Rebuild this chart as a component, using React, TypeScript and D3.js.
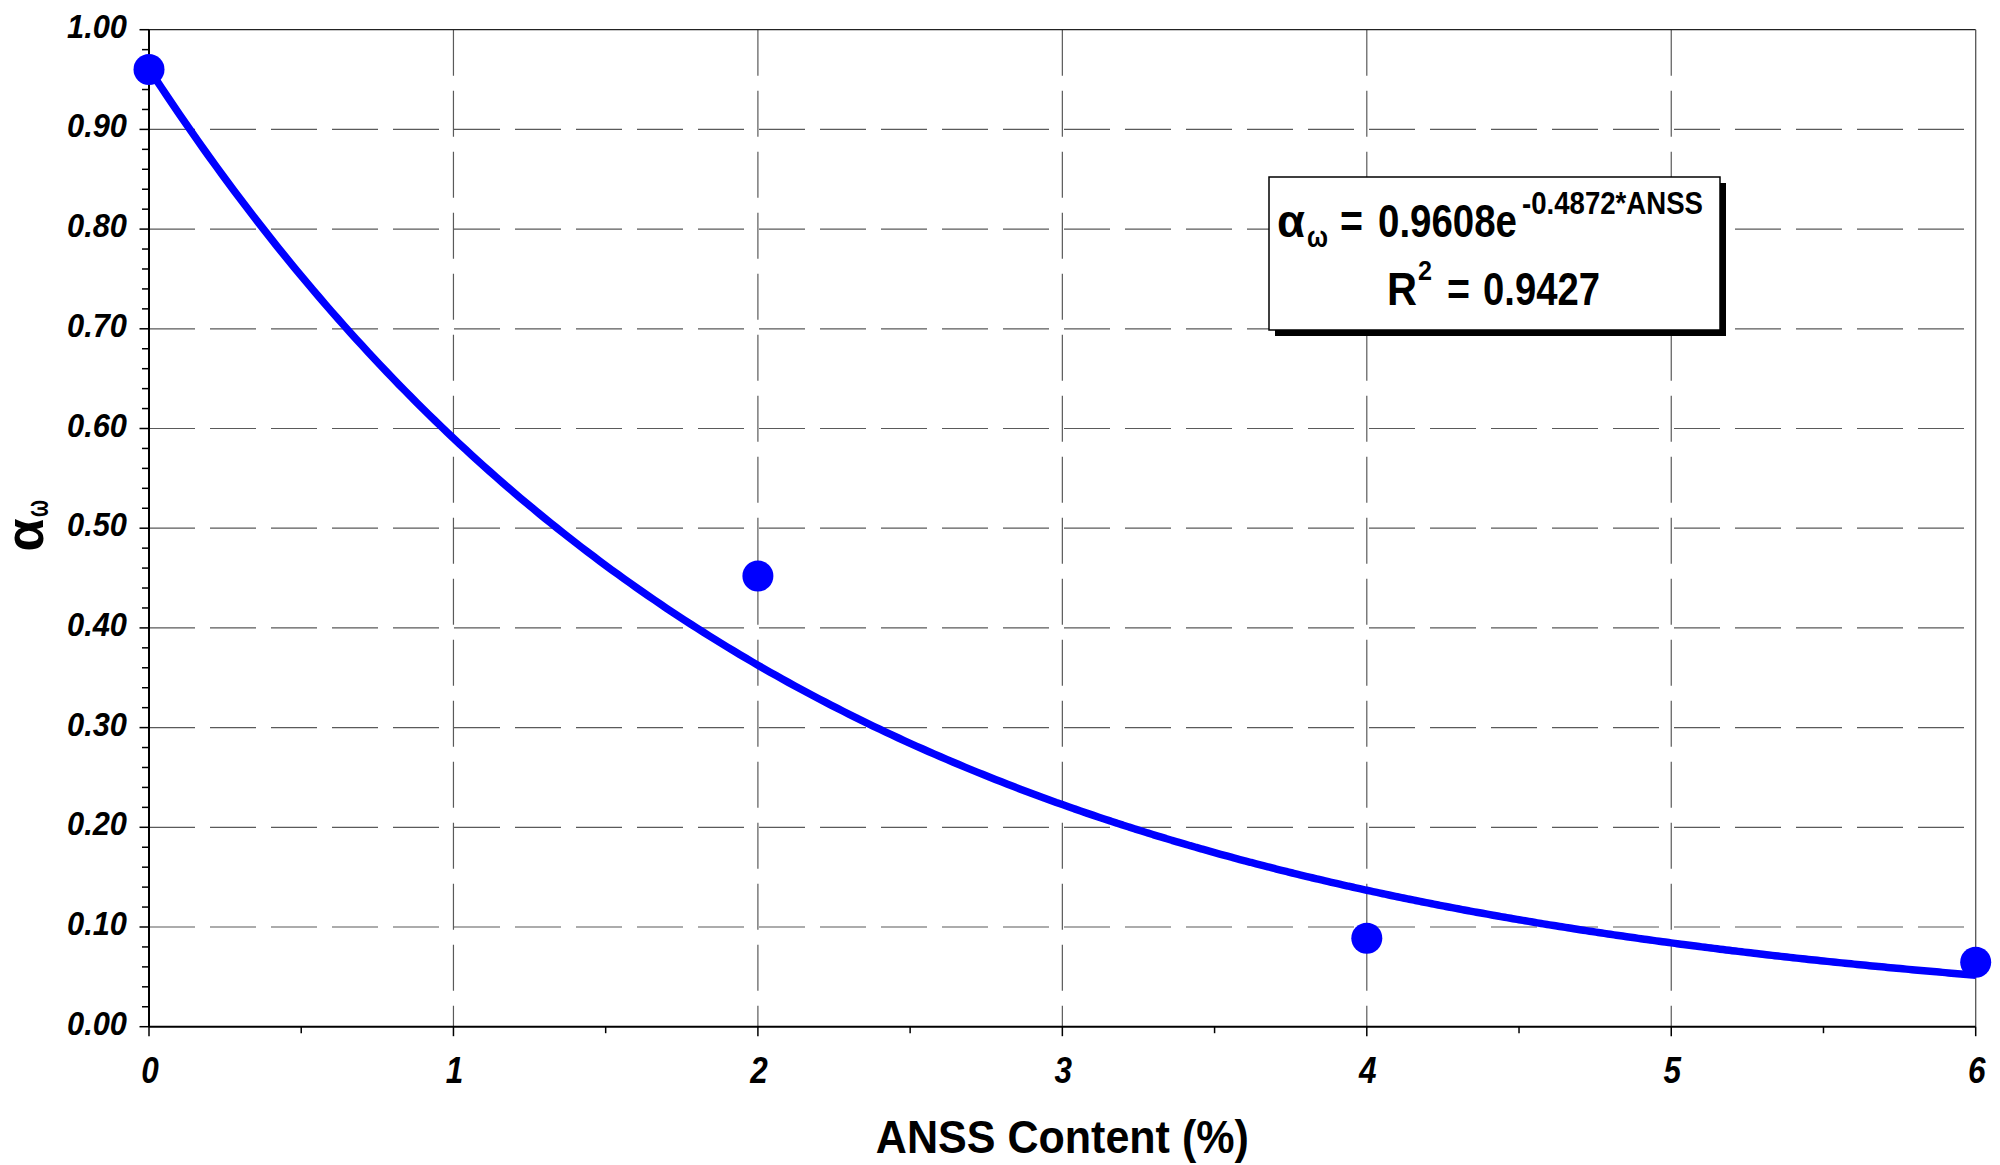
import React from "react";
import * as d3 from "d3";

// Measured α_ω values at each ANSS content level
const anssContent = [0, 2, 4, 6];
const alphaOmega = [0.96, 0.452, 0.0887, 0.0646];

// Exponential trend-line coefficients: α = fitA · e^(−fitB · ANSS)
const fitA = 0.9608;
const fitB = 0.4872;
const fitR2 = 0.9427;

const xTicks = [0, 1, 2, 3, 4, 5, 6];
const xMinorTicks = [0.5, 1.5, 2.5, 3.5, 4.5, 5.5];
const yTicks = [0, 0.1, 0.2, 0.3, 0.4, 0.5, 0.6, 0.7, 0.8, 0.9, 1.0];

const W = 2000;
const H = 1165;
const left = 149;
const right = 1975.7;
const top = 29.7;
const bottom = 1026.7;

const FONT = "'Liberation Sans', Arial, sans-serif";
const BLUE = "#0000FF";

type TProps = {
  x: number;
  y: number;
  w?: number;
  size: number;
  anchor?: "start" | "middle" | "end";
  italic?: boolean;
  weight?: string;
  transform?: string;
  children: React.ReactNode;
};

// Condensed bold text: glyphs squeezed to a fixed advance width
function T({ x, y, w, size, anchor = "start", italic = false, weight = "bold", transform, children }: TProps) {
  return (
    <text
      x={x}
      y={y}
      transform={transform}
      textAnchor={anchor}
      fontFamily={FONT}
      fontWeight={weight}
      fontStyle={italic ? "italic" : "normal"}
      fontSize={size}
      textLength={w}
      lengthAdjust={w ? "spacingAndGlyphs" : undefined}
    >
      {children}
    </text>
  );
}

export default function App() {
  const x = d3.scaleLinear().domain([0, 6]).range([left, right]);
  const y = d3.scaleLinear().domain([0, 1]).range([bottom, top]);

  const yMinor = d3.range(0, 1.0001, 0.02);
  const curveXs = d3.range(0, 6.0001, 0.02);
  const line = d3
    .line<number>()
    .x((d) => x(d))
    .y((d) => y(fitA * Math.exp(-fitB * d)))
    .curve(d3.curveMonotoneX);

  return (
    <svg
      width={W}
      height={H}
      style={{ position: "absolute", left: 0, top: 0, display: "block", background: "#fff" }}
    >
      {/* dashed gridlines */}
      {yTicks
        .filter((t) => t > 0 && t < 1)
        .map((t) => (
          <line
            key={"gy" + t}
            x1={left}
            x2={right}
            y1={y(t)}
            y2={y(t)}
            stroke="#5a5a5a"
            strokeWidth={1.2}
            strokeDasharray="46 15"
          />
        ))}
      {xTicks
        .filter((t) => t > 0 && t < 6)
        .map((t) => (
          <line
            key={"gx" + t}
            x1={x(t)}
            x2={x(t)}
            y1={top}
            y2={bottom}
            stroke="#5a5a5a"
            strokeWidth={1.2}
            strokeDasharray="46 15"
          />
        ))}

      {/* plot frame */}
      <line x1={left} x2={right} y1={top} y2={top} stroke="#222" strokeWidth={1.3} />
      <line x1={right} x2={right} y1={top} y2={bottom} stroke="#555" strokeWidth={1.3} />

      {/* y axis */}
      <line x1={left} x2={left} y1={top} y2={bottom} stroke="#000" strokeWidth={2} />
      {yMinor.map((t, i) => (
        <line
          key={"ym" + i}
          x1={left - (i % 5 === 0 ? 9.5 : 7)}
          x2={left}
          y1={y(t)}
          y2={y(t)}
          stroke="#000"
          strokeWidth={1.5}
        />
      ))}
      {yTicks.map((t) => (
        <T key={"yl" + t} x={127} y={y(t) + 8} w={60} size={34} anchor="end" italic>
          {d3.format(".2f")(t)}
        </T>
      ))}

      {/* x axis */}
      <line x1={left} x2={right} y1={bottom} y2={bottom} stroke="#000" strokeWidth={2} />
      {xTicks.map((t) => (
        <line key={"xt" + t} x1={x(t)} x2={x(t)} y1={bottom} y2={bottom + 9.5} stroke="#000" strokeWidth={1.5} />
      ))}
      {xMinorTicks.map((t) => (
        <line key={"xm" + t} x1={x(t)} x2={x(t)} y1={bottom} y2={bottom + 6.5} stroke="#000" strokeWidth={1.5} />
      ))}
      {xTicks.map((t) => (
        <T key={"xl" + t} x={x(t) + 1} y={1083} w={17.5} size={36} anchor="middle" italic>
          {t}
        </T>
      ))}

      {/* axis titles */}
      <T x={(left + right) / 2} y={1153} w={373} size={47} anchor="middle">
        ANSS Content (%)
      </T>
      <g transform="translate(43,529) rotate(-90)">
        <T x={-22.5} y={0} w={33} size={54}>
          α
        </T>
        <T x={12} y={5} w={17} size={32}>
          ω
        </T>
      </g>

      {/* exponential trend line */}
      <path d={line(curveXs) ?? ""} fill="none" stroke={BLUE} strokeWidth={7.5} strokeLinejoin="round" />

      {/* data points */}
      {anssContent.map((v, i) => (
        <circle key={"p" + i} cx={x(v)} cy={y(alphaOmega[i])} r={15.5} fill={BLUE} />
      ))}

      {/* trend-line equation box */}
      <rect x={1275} y={183} width={451} height={153} fill="#000" />
      <rect x={1269} y={177} width={451} height={153} fill="#fff" stroke="#000" strokeWidth={1.5} />
      <T x={1277} y={237} w={28} size={46}>
        α
      </T>
      <T x={1307} y={246.5} w={21} size={29}>
        ω
      </T>
      <T x={1340} y={237} w={23} size={46}>
        =
      </T>
      <T x={1378} y={237} w={139} size={46}>
        {`${fitA}e`}
      </T>
      <T x={1522} y={213.5} w={181} size={32}>
        {`-${fitB}*ANSS`}
      </T>

      <T x={1387} y={305} w={30} size={46}>
        R
      </T>
      <T x={1418} y={280} w={14} size={27}>
        2
      </T>
      <T x={1447} y={305} w={23} size={46}>
        =
      </T>
      <T x={1483} y={305} w={117} size={46}>
        {fitR2}
      </T>
    </svg>
  );
}
